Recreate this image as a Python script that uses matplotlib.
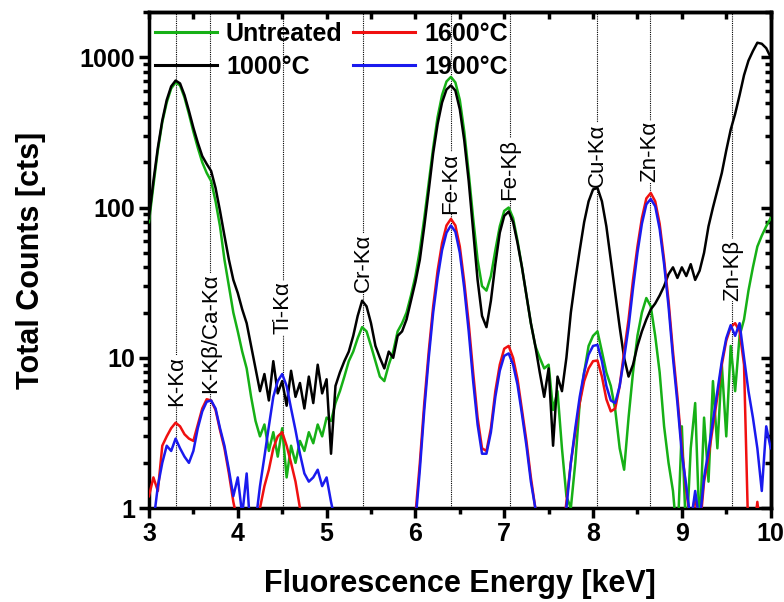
import numpy as np
import matplotlib
matplotlib.use("Agg")
import matplotlib.pyplot as plt
from matplotlib.ticker import LogLocator, MultipleLocator, NullFormatter

plt.rcParams['font.family'] = ['Liberation Sans', 'DejaVu Sans']

# energy grid of the spectra, keV (0.05 keV channels)
energy = np.round(np.arange(3.0, 10.0001, 0.05), 2)

# counts per channel, one row = 0.5 keV (values < 1 fall below the axis)
untreated = [
    80, 140, 240, 370, 500, 620, 680, 650, 540, 420,            # 3.0
    320, 250, 200, 170, 150, 110, 75, 45, 30, 20,               # 3.5
    15, 11, 8.5, 5.5, 3.8, 3.0, 3.6, 2.4, 3.2, 2.2,             # 4.0
    3.4, 1.6, 2.6, 2.0, 2.8, 2.4, 3.2, 2.7, 3.6, 3.0,           # 4.5
    4.0, 3.8, 5.0, 6.0, 7.5, 9.5, 11, 13.5, 16, 15,             # 5.0
    12, 9.5, 7.5, 7.0, 9, 11, 15, 17, 20, 26,                   # 5.5
    35, 52, 85, 145, 250, 400, 560, 690, 740, 680,              # 6.0
    520, 320, 170, 85, 45, 30, 28, 35, 52, 75,                  # 6.5
    95, 100, 85, 60, 40, 26, 17, 12, 10, 8.5,                   # 7.0
    9, 4.5, 6, 2.5, 1.2, 1.0, 2.0, 5, 8, 12,                    # 7.5
    14, 15, 11, 8, 6.5, 4.5, 2.5, 1.8, 4, 8,                    # 8.0
    14, 20, 25, 22, 14, 8, 3.5, 2, 1.3, 0.6,                    # 8.5
    3.5, 0.6, 2.5, 5, 0.7, 4, 1.5, 7, 2.5, 9,                   # 9.0
    3, 12, 6, 14, 18, 28, 40, 55, 65, 75,                       # 9.5
    85,                                                         # 10.0
]
t1000 = [
    85, 150, 250, 380, 520, 640, 700, 670, 560, 440,
    340, 270, 220, 195, 175, 135, 95, 65, 45, 33,
    27, 21, 17, 12, 8.5, 6.0, 7.8, 5.2, 9.5, 5.8,
    7.0, 4.8, 8.2, 5.5, 6.8, 4.6, 7.5, 5.0, 9.0, 5.8,
    7.2, 2.3, 6.5, 8.0, 9.5, 11, 14, 19, 24, 22,
    17, 12, 10, 8.5, 11, 10, 14, 15, 18, 24,
    32, 45, 75, 130, 230, 360, 500, 610, 650, 600,
    450, 280, 150, 70, 33, 19, 16, 24, 42, 68,
    88, 94, 80, 58, 40, 26, 17, 12, 8, 5.5,
    8.5, 2.6, 7.5, 6, 10, 20, 33, 52, 80, 110,
    132, 135, 110, 75, 45, 27, 16, 10, 7.5, 9,
    12, 15, 18, 21, 23, 26, 30, 36, 40, 34,
    40, 35, 42, 33, 38, 50, 75, 100, 130, 170,
    240, 330, 420, 560, 760, 950, 1100, 1250, 1230, 1150,
    1000,
]
t1600 = [
    1.2, 1.6, 1.3, 2.6, 3.0, 3.4, 3.7, 3.5, 3.1, 2.9,
    2.8, 3.6, 4.6, 5.3, 5.2, 4.5, 3.3, 2.5, 1.7, 1.1,
    0.8, 0.6, 0.6, 0.6, 0.8, 1.0, 1.4, 1.8, 2.5, 3.0,
    3.2, 2.6, 2.0, 1.5, 1.0, 0.7, 0.6, 0.6, 0.6, 0.6,
    0.6, 0.6, 0.6, 0.6, 0.6, 0.6, 0.6, 0.6, 0.6, 0.6,
    0.6, 0.6, 0.6, 0.6, 0.6, 0.6, 0.6, 0.6, 0.6, 0.6,
    0.9, 2.0, 5, 11, 22, 38, 58, 76, 84, 76,
    55, 32, 17, 8, 4, 2.5, 2.4, 3.4, 6, 9,
    11.5, 12, 10, 7.2, 4.5, 2.8, 1.6, 1.0, 0.6, 0.6,
    0.6, 0.6, 0.6, 0.6, 1.1, 2.0, 3.2, 5, 7, 8.5,
    9.5, 9.6, 7.5, 5.3, 4.4, 4.6, 6.5, 11, 18, 33,
    55, 85, 115, 125, 110, 78, 45, 24, 11, 5.5,
    2.5, 1.3, 0.8, 1.2, 0.7, 1.5, 2.2, 3.5, 5.5, 9,
    13, 16, 17, 15, 9, 0.6, 0.6, 1.1, 0.6, 0.6,
    0.6,
]
t1900 = [
    0.6, 0.8, 1.4, 2.0, 2.6, 2.4, 2.9, 2.5, 2.2, 2.0,
    2.4, 3.4, 4.4, 5.1, 5.2, 4.6, 3.4, 2.6, 1.8, 1.2,
    1.6, 0.9, 1.7, 0.6, 0.8, 1.4, 2.2, 3.5, 5.5, 7.0,
    7.8, 6.5, 4.6, 3.3, 2.3, 1.7, 1.5, 1.6, 1.8, 1.4,
    1.6, 1.1, 0.8, 0.6, 0.6, 0.6, 0.6, 0.6, 0.6, 0.6,
    0.6, 0.6, 0.6, 0.6, 0.6, 0.6, 0.6, 0.6, 0.6, 0.6,
    0.8, 1.8, 4.5, 10, 20, 34, 52, 68, 76, 69,
    50, 29, 15, 7, 3.6, 2.3, 2.3, 3.2, 5.5, 8.2,
    10.3, 10.7, 9.0, 6.6, 4.2, 2.6, 1.5, 1.0, 0.6, 0.6,
    0.6, 0.6, 0.6, 0.6, 1.0, 2.0, 3.4, 5.5, 8, 10.5,
    12, 12.2, 9.5, 6.5, 5.2, 5.0, 6.5, 10, 16, 29,
    50, 78, 105, 114, 102, 72, 42, 22, 10, 5,
    2.3, 1.4, 0.8, 1.3, 0.8, 1.6, 2.4, 3.8, 6, 9.5,
    13.5, 16.5, 14, 17, 10, 6, 4, 2.5, 1.3, 3.5,
    2.5,
]

# emission lines: (label, energy keV, counts where label starts)
lines = [
    ("K-K\u03b1", 3.31, 4.8),
    ("K-K\u03b2/Ca-K\u03b1", 3.69, 5.8),
    ("Ti-K\u03b1", 4.51, 14.3),
    ("Cr-K\u03b1", 5.41, 27.5),
    ("Fe-K\u03b1", 6.40, 91),
    ("Fe-K\u03b2", 7.06, 113),
    ("Cu-K\u03b1", 8.05, 138),
    ("Zn-K\u03b1", 8.64, 147),
    ("Zn-K\u03b2", 9.57, 24),
]

series = [
    ("Untreated", untreated, "#16b016"),
    ("1000\u00b0C", t1000, "black"),
    ("1600\u00b0C", t1600, "#f01010"),
    ("1900\u00b0C", t1900, "#1a1aee"),
]

fig = plt.figure(figsize=(7.84, 6.02), dpi=100)
ax = fig.add_axes([0.190, 0.156, 0.793, 0.824])

for name, x, y0 in lines:
    ax.axvline(x, color="black", ls=(0, (1, 1)), lw=0.8, zorder=1)
    ax.text(x, y0, name, rotation=90, ha="center", va="bottom", fontsize=16,
            zorder=2, bbox=dict(facecolor="white", edgecolor="none", pad=0.3))

for name, y, c in series:
    ax.plot(energy, y, color=c, lw=1.8, label=name, zorder=3)

ax.set_yscale("log")
ax.set_xlim(3, 10)
ax.set_ylim(1, 2000)

ax.xaxis.set_major_locator(MultipleLocator(1))
ax.xaxis.set_minor_locator(MultipleLocator(0.5))
ax.yaxis.set_minor_locator(LogLocator(base=10, subs=np.arange(2, 10), numticks=10))
ax.yaxis.set_minor_formatter(NullFormatter())
ax.set_yticks([1, 10, 100, 1000])
ax.set_yticklabels(["1", "10", "100", "1000"])

ax.tick_params(which="both", direction="out", width=2.5, labelsize=18, pad=3)
ax.tick_params(which="major", length=7)
ax.tick_params(which="minor", length=4.5)
for lab in ax.get_xticklabels() + ax.get_yticklabels():
    lab.set_fontweight("bold")

# mirrored ticks pointing inward on the top and right
top = ax.secondary_xaxis("top")
top.xaxis.set_major_locator(MultipleLocator(0.5))
top.tick_params(direction="in", length=5, width=2.5, labeltop=False)
right = ax.secondary_yaxis("right")
right.set_yscale("log")
right.yaxis.set_major_locator(LogLocator(base=10, numticks=10))
right.yaxis.set_minor_locator(LogLocator(base=10, subs=np.arange(2, 10), numticks=10))
right.tick_params(which="both", direction="in", width=2.5, labelright=False)
right.tick_params(which="major", length=7)
right.tick_params(which="minor", length=4.5)
for s in (top.spines.values(), right.spines.values()):
    for sp in s:
        sp.set_linewidth(2.5)

for sp in ax.spines.values():
    sp.set_linewidth(2.5)

ax.set_xlabel("Fluorescence Energy [keV]", fontsize=22, fontweight="bold")
ax.set_ylabel("Total Counts [cts]", fontsize=22, fontweight="bold")
ax.xaxis.set_label_coords(0.5, -0.122)
ax.yaxis.set_label_coords(-0.165, 0.5)

leg = ax.legend(ncol=2, loc="upper left", bbox_to_anchor=(-0.027, 1.025), frameon=False,
                handlelength=2.5, columnspacing=0.4, labelspacing=0.35,
                handletextpad=0.35, prop={"weight": "bold", "size": 18})
for h in leg.get_lines():
    h.set_linewidth(2.2)

fig.savefig("out.png", dpi=100)
